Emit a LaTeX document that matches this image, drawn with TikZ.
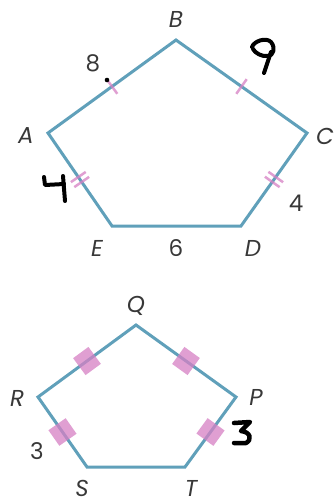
\documentclass[tikz,border=0pt]{standalone}
\usepackage{fontspec}
\setmainfont{Poppins}
\usetikzlibrary{decorations.markings}
\definecolor{edgeblue}{RGB}{96,160,186}
\definecolor{tickpink}{RGB}{214,128,196}
\begin{document}
\begin{tikzpicture}[x=1pt,y=-1pt,
  edge/.style={draw=edgeblue,line width=3pt,line join=miter},
  lbl/.style={font=\fontsize{23}{26}\selectfont,text=black!78,inner sep=0pt},
  vlbl/.style={lbl,font=\fontsize{23}{26}\selectfont\itshape},
  hand/.style={draw=black,line width=4pt,line cap=round,line join=round},
  tickone/.style={postaction={decorate,decoration={markings,mark=at position 0.5 with {\draw[tickpink,opacity=0.75,line width=2.5pt] (0,-9) -- (0,9);}}}},
  ticktwo/.style={postaction={decorate,decoration={markings,mark=at position 0.5 with {\draw[tickpink,opacity=0.75,line width=2.5pt] (-3,-9) -- (-3,9) (3,-9) -- (3,9);}}}},
  tickfat/.style={postaction={decorate,decoration={markings,mark=at position 0.5 with {\fill[tickpink,opacity=0.75] (-9.5,-10.5) rectangle (9.5,10.5);}}}}
]
\useasboundingbox[fill=white] (0,0) rectangle (334,504);
% top pentagon
\coordinate (A) at (48,133);
\coordinate (B) at (176,40);
\coordinate (C) at (307,133);
\coordinate (D) at (241,226);
\coordinate (E) at (112,226);
\draw[edge] (A) -- (B) -- (C) -- (D) -- (E) -- cycle;
\path (A) -- (B) [tickone];
\path (B) -- (C) [tickone];
\path (E) -- (A) [ticktwo];
\path (C) -- (D) [ticktwo];
\node[vlbl] (lB) at (176,19) {B};
\node[vlbl] (lA) at (26,136) {A};
\node[vlbl] (lC) at (325,136) {C};
\node[vlbl] (lE) at (97,248) {E};
\node[vlbl] (lD) at (253,248) {D};
\node[lbl] (l6) at (176,248) {6};
\node[lbl] (l8) at (93,63) {8};
\node[lbl] (l4) at (296,203) {4};
\fill[black] (107,80) circle (2.3);
% handwritten 9
\draw[hand] (252,47) .. controls (254,41) and (266,37) .. (271,42)
  .. controls (276,48) and (273,56) .. (268,56)
  .. controls (262,57) and (255,53) .. (253,49);
\draw[hand] (271,52) -- (264,73);
% handwritten 4
\draw[hand] (44,177) -- (45,185) -- (64,184);
\draw[hand] (63,176) -- (65,201);
% bottom pentagon
\coordinate (R) at (38,397);
\coordinate (Q) at (136,325);
\coordinate (P) at (236,397);
\coordinate (T) at (185,467);
\coordinate (S) at (87,467);
\draw[edge] (R) -- (Q) -- (P) -- (T) -- (S) -- cycle;
\path (R) -- (Q) [tickfat];
\path (Q) -- (P) [tickfat];
\path (R) -- (S) [tickfat];
\path (P) -- (T) [tickfat];
\node[vlbl] (lQ) at (136,306) {Q};
\node[vlbl] (lR) at (17,398) {R};
\node[vlbl] (lP) at (256,397) {P};
\node[vlbl] (lS) at (82,488) {S};
\node[vlbl] (lT) at (191,488) {T};
\node[lbl] (l3) at (37,451) {3};
% handwritten 3
\draw[hand,line width=4.5pt] (234,423) -- (250,422) -- (241,431)
  .. controls (251,432) and (252,440) .. (246,443) -- (234,443);
\end{tikzpicture}
\end{document}
